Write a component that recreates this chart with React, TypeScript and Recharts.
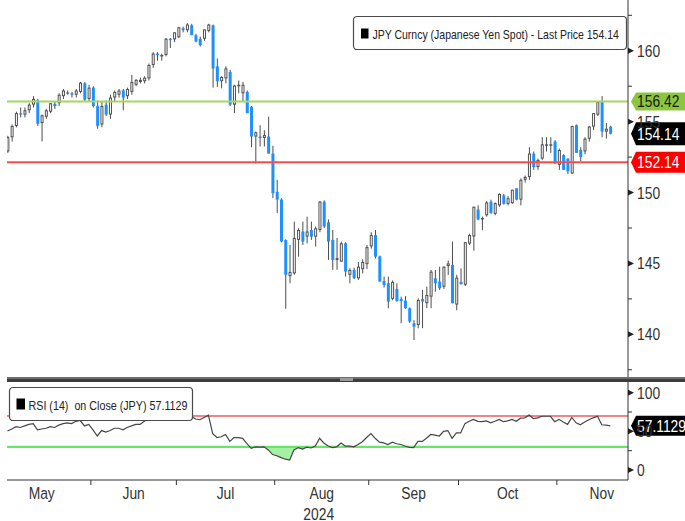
import React from 'react';
import { ComposedChart, Bar, Line, Area, XAxis, YAxis, ReferenceLine, Legend } from 'recharts';

const openPx = [
  152.9, 153.9, 154.7, 155.6, 155.5, 155.8, 156.2, 156.5, 154.9, 155.35,
  155.7, 156.25, 156.3, 156.8, 157.0, 157.0, 156.9, 157.1, 157.7, 156.6,
  157.4, 156.1, 154.8, 156.2, 155.5, 156.7, 156.9, 157.2, 156.8, 157.1,
  157.6, 157.8, 157.85, 158.05, 159.0, 159.8, 159.6, 159.7, 160.85, 160.8,
  160.95, 161.58, 161.45, 161.8, 161.1, 160.85, 160.85, 161.4, 161.8, 158.9,
  157.85, 158.05, 158.5, 156.2, 157.5, 157.0, 157.1, 156.05, 153.95, 153.95,
  153.85, 153.95, 152.75, 150.05, 149.5, 146.65, 144.1, 144.3, 146.66, 147.25,
  146.89, 147.36, 146.89, 147.36, 149.36, 147.9, 146.66, 145.25, 145.13, 146.42,
  144.2, 144.54, 143.95, 144.6, 144.95, 146.2, 147.0, 145.5, 143.76, 143.6,
  142.5, 143.2, 142.5, 142.38, 141.84, 140.78, 140.66, 142.49, 142.19, 142.66,
  143.95, 143.72, 143.36, 144.82, 144.89, 142.1, 143.7, 143.5, 146.4, 146.9,
  148.8, 148.1, 148.4, 149.35, 148.5, 149.1, 149.8, 149.2, 149.25, 150.3,
  149.5, 150.9, 151.1, 152.75, 151.8, 152.4, 153.3, 153.3, 153.6, 151.95,
  152.65, 152.4, 151.35, 154.75, 153.0, 152.9, 153.8, 154.65, 155.5, 156.4,
  154.3, 154.65,
];
const highPx = [
  154.0, 154.8, 155.7, 156.0, 156.0, 156.3, 156.8, 156.6, 155.5, 155.9,
  156.3, 156.4, 157.0, 157.3, 157.2, 157.1, 157.3, 157.8, 157.8, 157.6,
  157.5, 156.5, 156.4, 156.5, 156.9, 157.2, 157.3, 157.3, 157.4, 158.3,
  158.0, 158.1, 158.2, 159.1, 159.9, 159.9, 159.8, 160.9, 160.9, 161.3,
  161.7, 161.7, 161.95, 161.9, 161.2, 161.0, 161.5, 161.9, 161.85, 159.45,
  158.2, 158.9, 158.65, 157.6, 157.9, 157.8, 157.2, 156.1, 154.3, 154.75,
  154.4, 155.35, 153.3, 150.9, 149.6, 146.7, 146.3, 147.95, 147.48, 147.95,
  148.3, 147.95, 147.6, 149.4, 149.45, 148.1, 147.36, 146.8, 146.54, 146.5,
  144.66, 144.7, 145.1, 145.3, 146.3, 147.2, 147.36, 145.55, 144.07, 144.07,
  143.8, 143.6, 142.66, 142.7, 141.9, 141.0, 142.54, 143.13, 143.36, 144.54,
  144.54, 144.77, 144.8, 145.2, 146.54, 144.2, 144.65, 146.5, 147.1, 149.0,
  149.1, 148.3, 149.4, 149.5, 149.3, 149.95, 149.9, 149.75, 150.2, 150.3,
  151.0, 151.2, 153.2, 152.9, 152.4, 153.9, 153.9, 153.9, 153.7, 153.1,
  152.7, 152.4, 154.7, 154.8, 153.2, 153.9, 154.7, 155.6, 156.4, 156.8,
  154.9, 154.7,
];
const lowPx = [
  152.8, 153.6, 154.6, 155.3, 155.3, 155.6, 156.0, 154.7, 153.6, 155.2,
  155.6, 155.9, 156.1, 156.6, 156.9, 156.7, 156.7, 157.0, 156.4, 156.4,
  156.0, 154.5, 154.6, 155.4, 155.2, 156.4, 156.7, 155.8, 156.6, 156.9,
  157.5, 157.7, 157.7, 157.9, 158.8, 159.3, 159.3, 159.6, 160.2, 160.6,
  160.9, 161.3, 161.3, 161.1, 160.6, 160.3, 160.7, 161.3, 157.4, 157.45,
  157.35, 157.7, 156.1, 155.6, 157.0, 156.4, 155.6, 153.2, 152.05, 153.25,
  153.25, 152.75, 149.6, 148.55, 146.5, 141.8, 143.6, 144.2, 145.48, 146.3,
  146.42, 146.66, 146.19, 147.2, 147.5, 145.25, 144.55, 144.55, 145.13, 144.07,
  143.6, 143.9, 143.84, 144.3, 144.6, 146.05, 145.36, 143.72, 143.3, 141.84,
  142.4, 142.3, 140.78, 141.8, 140.8, 139.6, 140.43, 140.43, 141.84, 141.84,
  143.01, 143.13, 143.2, 144.19, 142.19, 141.7, 143.5, 143.4, 146.3, 145.9,
  148.05, 147.35, 148.3, 148.5, 148.4, 149.0, 149.15, 149.1, 149.2, 149.45,
  149.1, 150.7, 150.9, 151.6, 151.6, 152.3, 152.9, 152.8, 152.0, 151.6,
  151.6, 151.3, 151.3, 152.8, 152.2, 152.7, 153.6, 154.4, 155.4, 153.9,
  153.8, 154.1,
];
const closePx = [
  153.9, 154.7, 155.6, 155.5, 155.8, 156.2, 156.6, 154.85, 155.45, 155.8,
  156.3, 156.1, 156.9, 157.2, 157.05, 156.9, 157.2, 157.75, 156.55, 157.4,
  156.1, 154.7, 156.1, 155.5, 156.7, 157.1, 157.2, 156.7, 157.3, 157.8,
  157.95, 157.95, 158.1, 159.0, 159.8, 159.7, 159.7, 160.85, 160.75, 161.3,
  161.65, 161.45, 161.85, 161.1, 160.65, 160.4, 161.5, 161.85, 158.75, 157.85,
  158.15, 158.75, 156.2, 157.55, 157.6, 157.6, 155.6, 153.95, 154.25, 153.85,
  154.05, 152.75, 149.95, 149.5, 146.55, 144.2, 144.4, 146.8, 147.36, 146.54,
  147.25, 146.89, 147.48, 149.36, 147.6, 146.54, 145.25, 145.37, 146.42, 144.43,
  144.54, 143.96, 144.77, 145.1, 146.15, 147.0, 145.48, 143.72, 143.48, 142.31,
  143.7, 142.35, 142.35, 141.84, 140.9, 140.54, 142.42, 142.31, 142.78, 144.42,
  143.6, 143.25, 144.77, 145.0, 142.19, 144.0, 143.55, 146.5, 147.0, 149.0,
  148.1, 148.2, 149.3, 148.55, 149.25, 149.9, 149.2, 149.6, 150.2, 149.5,
  150.9, 151.1, 152.75, 151.8, 152.3, 153.4, 153.4, 153.4, 152.05, 153.0,
  151.6, 151.5, 154.7, 152.8, 152.5, 153.8, 154.65, 155.6, 156.4, 154.3,
  154.5, 154.14,
];
const rsi14 = [
  50.5, 53, 56, 55, 57, 59, 60, 52, 53, 54,
  56, 55, 58, 60, 61, 60, 63, 64, 57, 59,
  52, 44, 51, 49, 51, 54, 54, 52, 55, 57,
  59, 59, 63, 67, 70, 69, 69, 72, 71, 73,
  75, 74, 75, 69, 66, 65, 68, 71, 47, 42,
  43, 46, 37, 42, 42, 41, 34, 28, 30, 29.5,
  30, 26, 20, 18.5, 16, 14, 13, 26, 29, 27,
  29.5, 28.5, 31, 41, 35, 31, 29, 30, 35, 31,
  31, 30, 33, 36.6, 42, 47, 41, 36, 35, 33,
  36, 34, 33, 31, 29.4, 29, 37, 37, 41, 46,
  45, 44, 50, 51, 41, 48, 48, 60, 63, 65.5,
  63, 62.5, 63.5, 61, 63, 65.5, 62.5, 63.5, 65.5, 63,
  67, 67.5, 71, 66.5, 67.5, 69.5, 69.5, 69.5, 62.5, 65.5,
  62, 59, 68, 61, 58.5, 62, 65, 67.5, 69.5, 58.5,
  58, 57.1129,
];

const monthLabels = ['May', 'Jun', 'Jul', 'Aug', 'Sep', 'Oct', 'Nov'];
const monthCenters = [8, 29.5, 51, 73.5, 95, 117, 139];
const monthBounds = [19.5, 39.5, 62.5, 84.5, 105.5, 128.5];
const yearLabel = '2024';
const yearUnder = 'Aug';

const priceMajor = [140, 145, 150, 155, 160];
const priceMinor = [137.5, 142.5, 147.5, 152.5, 157.5, 162.5];
const rsiMajor = [0, 50, 100];
const rsiMinor = [25, 75];
const upperLevel = 156.42;
const lowerLevel = 152.14;
const rsiHigh = 70;
const rsiLow = 30;

const X_DOMAIN: [number, number] = [-0.117, 145.14];
const PRICE_DOMAIN: [number, number] = [136.92, 163.58];
const RSI_DOMAIN: [number, number] = [-12.9, 113.8];

const priceData = closePx.map((c, i) => ({ i, o: openPx[i], h: highPx[i], l: lowPx[i], c }));
const rsiData = rsi14.map((v, i) => ({ i, rsi: v }));
const lastClose = closePx[closePx.length - 1];
const lastRsi = rsi14[rsi14.length - 1];

const FONT = "'Liberation Sans', Arial, Helvetica, sans-serif";
const TXT = '#333';

function SText({ x, y, text, size = 16.5, sx = 0.84, fill = TXT, anchor = 'start' }: any) {
  return (
    <text
      transform={`translate(${x} ${y}) scale(${sx} 1)`}
      x={0}
      y={0}
      dy="0.36em"
      fontSize={size}
      fontFamily={FONT}
      fill={fill}
      textAnchor={anchor}
      style={{ whiteSpace: 'pre' }}
    >
      {text}
    </text>
  );
}

function Candle(props: any) {
  const { x, y, width, height, payload } = props;
  if (!payload || height == null || isNaN(y)) return null;
  const cx = x + width / 2;
  const top0 = Math.min(y, y + height);
  const hh = Math.abs(height);
  const { o, h, l, c } = payload;
  const py = (v: number) => top0 + ((h - v) / (h - l)) * hh;
  const bt = py(Math.max(o, c));
  const bb = py(Math.min(o, c));
  const bh = Math.max(bb - bt, 1);
  const up = c >= o;
  return (
    <g>
      <line x1={cx} x2={cx} y1={top0} y2={top0 + hh} stroke="#4d4d4d" strokeWidth={1} />
      {up ? (
        <g>
          <rect x={cx - 1.5} y={bt} width={3} height={bh} fill="#505050" />
          {bh > 2.5 && <rect x={cx - 0.5} y={bt + 1} width={1} height={bh - 2} fill="#ffffff" />}
        </g>
      ) : (
        <rect x={cx - 1.5} y={bt} width={3} height={bh} fill="#1E90FF" />
      )}
    </g>
  );
}

function Tag({ tipX, cy, h, bg, fg, text }: any) {
  const bx = tipX + 5;
  return (
    <g>
      <polygon
        points={`${tipX},${cy} ${bx},${cy - h / 2} 700,${cy - h / 2} 700,${cy + h / 2} ${bx},${cy + h / 2}`}
        fill={bg}
      />
      <SText x={bx + 1} y={cy} text={text} fill={fg} />
    </g>
  );
}

const tagLabel = (text: string, bg: string, fg: string, h: number) => (p: any) => {
  const vb = p.viewBox || {};
  return <Tag tipX={vb.x + vb.width + 3} cy={vb.y} h={h} bg={bg} fg={fg} text={text} />;
};

const makeYTick = (majors: number[]) => (props: any) => {
  const { x, y, payload } = props;
  const v = payload.value;
  if (!majors.includes(v)) {
    return <line x1={x} x2={x + 4} y1={y} y2={y} stroke="#333" strokeWidth={1} />;
  }
  return (
    <g>
      <polygon points={`${x},${y - 3} ${x + 6},${y} ${x},${y + 3}`} fill="#222" />
      <SText x={x + 9} y={y} text={String(v)} />
    </g>
  );
};

const MonthTick = (props: any) => {
  const { x, y, payload } = props;
  const v = payload.value;
  if (monthBounds.includes(v)) {
    return <line x1={x} x2={x} y1={y} y2={y + 5} stroke="#333" strokeWidth={1} />;
  }
  const name = monthLabels[monthCenters.indexOf(v)];
  return (
    <g>
      <SText x={x} y={y + 13} text={name} anchor="middle" />
      {name === yearUnder && <SText x={x - 3} y={y + 34.5} text={yearLabel} anchor="middle" />}
    </g>
  );
};

function LegendBox({ w, h, sq, text, tx, ty, sx, size }: any) {
  return (
    <svg width={w + 2} height={h + 2} style={{ display: 'block', overflow: 'visible' }}>
      <rect x={0.5} y={0.5} width={w} height={h} rx={3.5} fill="#fff" stroke="#4a4a4a" strokeWidth={1.2} />
      <rect x={sq[0]} y={sq[1]} width={sq[2]} height={sq[3]} fill="#000" />
      <SText x={tx} y={ty} text={text} size={size} sx={sx} fill="#222" />
    </svg>
  );
}

const priceLegendText = `JPY Curncy (Japanese Yen Spot) - Last Price ${lastClose.toFixed(2)}`;
const rsiLegendText = `RSI (14)  on Close (JPY) ${lastRsi.toFixed(4)}`;

export default function App() {
  const sortNum = (a: number[]) => [...a].sort((p, q) => p - q);
  return (
    <div style={{ position: 'absolute', left: 0, top: 0, width: 685, height: 521, background: '#fff', overflow: 'hidden' }}>
      <div style={{ position: 'absolute', left: 0, top: 0 }}>
        <ComposedChart width={685} height={378} data={priceData} margin={{ top: 0, right: 0, bottom: 0, left: 7 }}>
          <XAxis dataKey="i" type="number" domain={X_DOMAIN} hide allowDataOverflow />
          <YAxis
            orientation="right"
            domain={PRICE_DOMAIN}
            allowDataOverflow
            ticks={sortNum([...priceMajor, ...priceMinor])}
            interval={0}
            width={57}
            tickLine={false}
            tickSize={0}
            tickMargin={0}
            axisLine={{ stroke: '#333', strokeWidth: 1 }}
            tick={makeYTick(priceMajor)}
          />
          <ReferenceLine y={upperLevel} stroke="#a6d65e" strokeWidth={2} />
          <ReferenceLine y={lowerLevel} stroke="#ff4a4a" strokeWidth={2} />
          <Bar dataKey={(d: any) => [d.l, d.h]} barSize={3} shape={(p: any) => <Candle {...p} />} isAnimationActive={false} />
          <ReferenceLine y={upperLevel} stroke="none" label={tagLabel(upperLevel.toFixed(2), '#8cc63f', '#1a1a1a', 18)} />
          <ReferenceLine y={lowerLevel} stroke="none" label={tagLabel(lowerLevel.toFixed(2), '#ff0000', '#ffffff', 21)} />
          <ReferenceLine y={lastClose} stroke="none" label={tagLabel(lastClose.toFixed(2), '#000000', '#ffffff', 23)} />
          <Legend
            layout="vertical"
            align="center"
            verticalAlign="middle"
            wrapperStyle={{ position: 'absolute', left: 353, top: 15.5, width: 276, height: 36 }}
            content={() => (
              <LegendBox w={273} h={33} sq={[8, 12.5, 7.5, 10]} text={priceLegendText} tx={19.5} ty={18} sx={0.808} size={13} />
            )}
          />
        </ComposedChart>
      </div>

      <div style={{ position: 'absolute', left: 7, top: 377, width: 678, height: 2, background: '#6e6e6e' }} />
      <div style={{ position: 'absolute', left: 7, top: 379, width: 678, height: 3, background: '#3c3c3c' }} />
      <div style={{ position: 'absolute', left: 340, top: 378, width: 13, height: 3, background: '#9a9a9a' }} />

      <div style={{ position: 'absolute', left: 0, top: 382 }}>
        <ComposedChart width={685} height={139} data={rsiData} margin={{ top: 0, right: 0, bottom: 0, left: 7 }}>
          <XAxis
            dataKey="i"
            type="number"
            domain={X_DOMAIN}
            allowDataOverflow
            ticks={sortNum([...monthBounds, ...monthCenters])}
            interval={0}
            height={41}
            tickLine={false}
            tickSize={0}
            tickMargin={0}
            axisLine={{ stroke: '#333', strokeWidth: 1 }}
            tick={MonthTick}
          />
          <YAxis
            orientation="right"
            domain={RSI_DOMAIN}
            allowDataOverflow
            ticks={sortNum([...rsiMajor, ...rsiMinor])}
            interval={0}
            width={57}
            tickLine={false}
            tickSize={0}
            tickMargin={0}
            axisLine={{ stroke: '#333', strokeWidth: 1 }}
            tick={makeYTick(rsiMajor)}
          />
          <Area
            dataKey={(d: any) => [Math.min(d.rsi, rsiLow), rsiLow]}
            fill="#a6f0a6"
            fillOpacity={1}
            stroke="none"
            isAnimationActive={false}
          />
          <Area
            dataKey={(d: any) => [rsiHigh, Math.max(d.rsi, rsiHigh)]}
            fill="#f7b0b0"
            fillOpacity={1}
            stroke="none"
            isAnimationActive={false}
          />
          <ReferenceLine y={rsiHigh} stroke="#f08585" strokeWidth={2} />
          <ReferenceLine y={rsiLow} stroke="#66e866" strokeWidth={2.2} />
          <Line dataKey="rsi" type="linear" stroke="#474747" strokeWidth={1.2} dot={false} isAnimationActive={false} />
          <ReferenceLine y={lastRsi} stroke="none" label={tagLabel(lastRsi.toFixed(4), '#000000', '#ffffff', 20)} />
          <Legend
            layout="vertical"
            align="center"
            verticalAlign="middle"
            wrapperStyle={{ position: 'absolute', left: 9, top: 5, width: 186, height: 36 }}
            content={() => (
              <LegendBox w={183} h={33} sq={[7.5, 11.5, 8.5, 11]} text={rsiLegendText} tx={19.5} ty={18.5} sx={0.826} size={13} />
            )}
          />
        </ComposedChart>
      </div>
    </div>
  );
}
